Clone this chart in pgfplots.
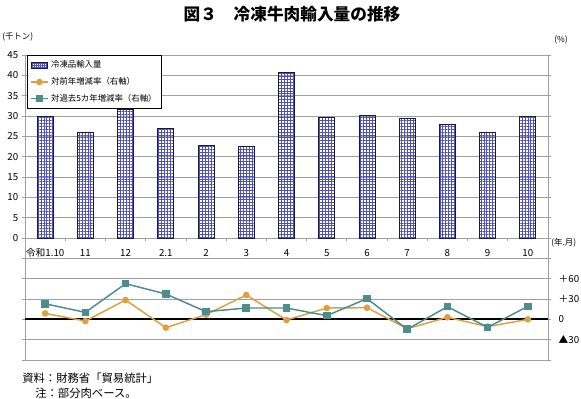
\documentclass[border=0pt]{standalone}
\usepackage{pgfplots}
\pgfplotsset{compat=1.18}
\usepackage{fontspec}
\setmainfont{Noto Sans CJK JP}
\usetikzlibrary{patterns.meta}
\definecolor{barblue}{RGB}{80,80,185}
\definecolor{baredge}{RGB}{25,25,70}
\definecolor{orangeL}{RGB}{222,160,60}
\definecolor{tealL}{RGB}{78,140,142}
\definecolor{gridgray}{RGB}{160,160,160}
\pgfplotsset{my area legend/.style={legend image code/.code={\draw[##1] (0cm,-0.08cm) rectangle (0.44cm,0.08cm);}}}
\begin{document}
\begin{tikzpicture}
\useasboundingbox (0,0) rectangle (435.75pt,-299.25pt);
\fill[white] (0,0) rectangle (435.75pt,-299.25pt);
% left axis with bars
\begin{axis}[at={(18.75pt,-270pt)}, anchor=south west, scale only axis,
  width=392.25pt, height=228.75pt,
  xmin=-0.5, xmax=12.5, ymin=-30, ymax=45,
  axis y line*=left, axis x line*=middle,
  x axis line style={-, gridgray, line width=0.7pt},
  y axis line style={-, gridgray, line width=0.7pt},
  ytick={-30,-25,...,45},
  yticklabels={{},{},{},{},{},{},0,5,10,15,20,25,30,35,40,45},
  ymajorgrids, grid style={gridgray, line width=0.6pt},
  xtick={0,...,12},
  xticklabels={令和1.10,11,12,2.1,2,3,4,5,6,7,8,9,10},
  minor xtick={-0.5,0.5,...,12.5},
  tick align=outside,
  major tick length=2.5pt, minor tick length=2.5pt,
  major x tick style={draw=none},
  minor x tick style={gridgray, line width=0.6pt},
  ytick style={gridgray, line width=0.6pt},
  /pgf/number format/assume math mode=true,
  tick label style={font=\fontsize{7.3}{8}\selectfont},
  xticklabel style={yshift=-1.5pt, text height=6.5pt, text depth=1pt},
  yticklabel style={xshift=1pt},
]
\addplot[ybar, bar width=12pt, draw=baredge, line width=0.7pt,
  pattern={Hatch[angle=0,distance=2.2pt,line width=0.7pt]}, pattern color=barblue]
  coordinates {(0,30.0) (1,26.0) (2,31.7) (3,27.0) (4,22.8) (5,22.6) (6,40.8)
               (7,29.6) (8,30.2) (9,29.4) (10,27.9) (11,26.0) (12,29.8)};
\end{axis}
% right axis with lines
\begin{axis}[at={(18.75pt,-270pt)}, anchor=south west, scale only axis,
  width=392.25pt, height=228.75pt,
  xmin=-0.5, xmax=12.5, ymin=-60, ymax=390,
  axis y line*=right, axis x line=none,
  y axis line style={-, gridgray, line width=0.7pt},
  ytick={-60,-30,...,390},
  yticklabels={{},▲30,0,＋30,＋60,{},{},{},{},{},{},{},{},{},{},{}},
  tick align=outside, major tick length=2.5pt,
  ytick style={gridgray, line width=0.6pt},
  tick label style={font=\fontsize{7.3}{8}\selectfont},
  yticklabel style={xshift=2pt},
  legend style={at={(0.004,1)}, anchor=north west, draw=black, line width=0.8pt,
    font=\fontsize{6.3}{7.5}\selectfont, row sep=1.6pt, inner sep=2pt,
    cells={anchor=west}},
  legend image code/.code={\draw[mark repeat=2,mark phase=2] plot coordinates {(0cm,0cm) (0.22cm,0cm) (0.44cm,0cm)};},
]
\draw[black, line width=1.6pt] (axis cs:-0.5,0) -- (axis cs:12.5,0);
\addlegendimage{my area legend, draw=baredge, line width=0.6pt, pattern={Hatch[angle=0,distance=1.5pt,line width=0.5pt]}, pattern color=barblue}
\addlegendentry{冷凍品輸入量}
\addplot[orangeL, line width=1.1pt, mark=*, mark size=1.9pt, mark options={fill=orangeL, draw=orangeL}]
  coordinates {(0,8.8) (1,-2.5) (2,28.5) (3,-12.3) (4,7) (5,35.9) (6,-1)
               (7,16.7) (8,17.2) (9,-13.8) (10,3) (11,-10.8) (12,0)};
\addlegendentry{対前年増減率（右軸）}
\addplot[tealL, line width=1.1pt, mark=square*, mark size=2.3pt, mark options={fill=tealL, draw=tealL}]
  coordinates {(0,23) (1,10.3) (2,52.6) (3,37.4) (4,11.3) (5,16.7) (6,16.7)
               (7,5.4) (8,30.5) (9,-14.7) (10,18.7) (11,-11.8) (12,19.2)};
\addlegendentry{対過去5カ年増減率（右軸）}
\end{axis}
% texts
\node[font=\bfseries\fontsize{12.5}{14}\selectfont] at (219pt,-10.5pt) {図３　冷凍牛肉輸入量の推移};
\node[font=\fontsize{6.3}{8}\selectfont, anchor=west, inner sep=0pt] at (1.5pt,-27.75pt) {(千トン)};
\node[font=\fontsize{6.3}{8}\selectfont, anchor=west, inner sep=0pt] at (415.5pt,-30pt) {(\%)};
\node[font=\fontsize{6.3}{8}\selectfont, anchor=west, inner sep=0pt] at (413.25pt,-182.25pt) {(年.月)};
\node[font=\fontsize{8.5}{10}\selectfont, anchor=west, inner sep=0pt] at (16.5pt,-283.5pt) {資料：財務省「貿易統計」};
\node[font=\fontsize{8.5}{10}\selectfont, anchor=west, inner sep=0pt] at (26.25pt,-294.75pt) {注：部分肉ベース。};
\end{tikzpicture}
\end{document}
